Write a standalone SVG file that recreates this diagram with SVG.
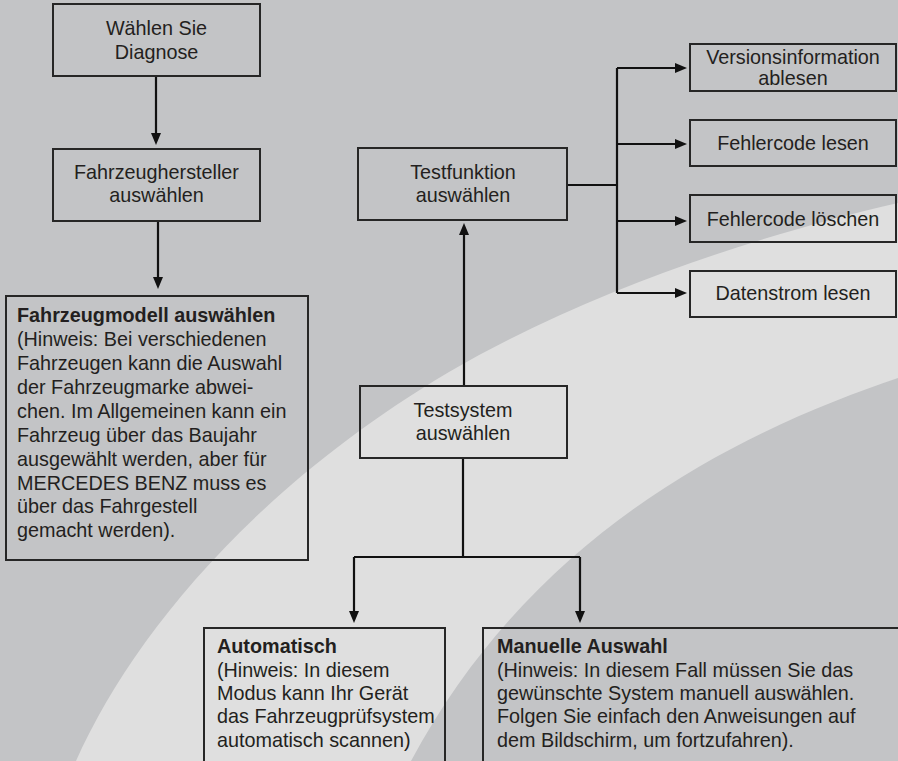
<svg xmlns="http://www.w3.org/2000/svg" width="898" height="761" viewBox="0 0 898 761">
<defs>
<style>
.bg{fill:#c3c4c6}
.band{fill:#dfdfdf}
.box{fill:none;stroke:#262626;stroke-width:2}
.t{font-family:"Liberation Sans",Arial,sans-serif;font-size:19.8px;fill:#231f20}
.c{text-anchor:middle}
.b{font-weight:bold}
.con{fill:none;stroke:#111;stroke-width:2.2}
</style>
<marker id="ah" markerWidth="12" markerHeight="10" refX="6" refY="5" orient="auto" markerUnits="userSpaceOnUse">
<path d="M0,0 L12,5 L0,10 Z" fill="#111"/>
</marker>
</defs>
<rect class="bg" x="0" y="0" width="898" height="761"/>
<path class="band" d="M76,761 C130,640 250,490 449,372 C590,290 760,235 898,203 L898,378 C760,425 540,520 411,761 Z"/>

<g id="connectors">
<path class="con" d="M156,77 V139" marker-end="url(#ah)"/>
<path class="con" d="M158,222 V283" marker-end="url(#ah)"/>
<path class="con" d="M464,386 V229" marker-end="url(#ah)"/>
<path class="con" d="M567,185 H617"/>
<path class="con" d="M617,68 V293"/>
<path class="con" d="M617,68 H681" marker-end="url(#ah)"/>
<path class="con" d="M617,144 H681" marker-end="url(#ah)"/>
<path class="con" d="M617,221 H681" marker-end="url(#ah)"/>
<path class="con" d="M617,293 H681" marker-end="url(#ah)"/>
<path class="con" d="M463,458 V557"/>
<path class="con" d="M354,557 H580"/>
<path class="con" d="M354,557 V617" marker-end="url(#ah)"/>
<path class="con" d="M580,557 V617" marker-end="url(#ah)"/>
</g>

<g id="n-diagnose">
<rect class="box" x="53" y="4" width="207" height="72"/>
<text class="t c" x="156.5" y="35">Wählen Sie</text>
<text class="t c" x="156.5" y="59">Diagnose</text>
</g>
<g id="n-hersteller">
<rect class="box" x="53" y="149" width="207" height="72"/>
<text class="t c" x="156.5" y="179">Fahrzeughersteller</text>
<text class="t c" x="156.5" y="202">auswählen</text>
</g>
<g id="n-modell">
<rect class="box" x="6" y="296" width="302" height="264"/>
<text class="t b" x="17" y="322">Fahrzeugmodell auswählen</text>
<text class="t" x="17" y="346">(Hinweis: Bei verschiedenen</text>
<text class="t" x="17" y="370">Fahrzeugen kann die Auswahl</text>
<text class="t" x="17" y="394">der Fahrzeugmarke abwei-</text>
<text class="t" x="17" y="418">chen. Im Allgemeinen kann ein</text>
<text class="t" x="17" y="442">Fahrzeug über das Baujahr</text>
<text class="t" x="17" y="466">ausgewählt werden, aber für</text>
<text class="t" x="17" y="490">MERCEDES BENZ muss es</text>
<text class="t" x="17" y="513">über das Fahrgestell</text>
<text class="t" x="17" y="537">gemacht werden).</text>
</g>
<g id="n-testfunktion">
<rect class="box" x="358" y="148" width="209" height="72"/>
<text class="t c" x="463" y="179">Testfunktion</text>
<text class="t c" x="463" y="202">auswählen</text>
</g>
<g id="n-testsystem">
<rect class="box" x="360" y="386" width="207" height="72"/>
<text class="t c" x="463" y="417">Testsystem</text>
<text class="t c" x="463" y="440">auswählen</text>
</g>
<g id="n-version">
<rect class="box" x="690" y="44" width="206" height="47"/>
<text class="t c" x="793" y="64">Versionsinformation</text>
<text class="t c" x="793" y="85">ablesen</text>
</g>
<g id="n-lesen">
<rect class="box" x="690" y="120" width="206" height="46"/>
<text class="t c" x="793" y="150">Fehlercode lesen</text>
</g>
<g id="n-loeschen">
<rect class="box" x="690" y="195" width="206" height="47"/>
<text class="t c" x="793" y="226">Fehlercode löschen</text>
</g>
<g id="n-datenstrom">
<rect class="box" x="690" y="271" width="206" height="46"/>
<text class="t c" x="793" y="300">Datenstrom lesen</text>
</g>
<g id="n-auto">
<rect class="box" x="204" y="628" width="241" height="150"/>
<text class="t b" x="217" y="653">Automatisch</text>
<text class="t" x="217" y="677">(Hinweis: In diesem</text>
<text class="t" x="217" y="700">Modus kann Ihr Gerät</text>
<text class="t" x="217" y="723">das Fahrzeugprüfsystem</text>
<text class="t" x="217" y="747">automatisch scannen)</text>
</g>
<g id="n-manuell">
<rect class="box" x="483" y="628" width="430" height="150"/>
<text class="t b" x="497" y="653">Manuelle Auswahl</text>
<text class="t" x="497" y="677">(Hinweis: In diesem Fall müssen Sie das</text>
<text class="t" x="497" y="700">gewünschte System manuell auswählen.</text>
<text class="t" x="497" y="723">Folgen Sie einfach den Anweisungen auf</text>
<text class="t" x="497" y="747">dem Bildschirm, um fortzufahren).</text>
</g>
</svg>
